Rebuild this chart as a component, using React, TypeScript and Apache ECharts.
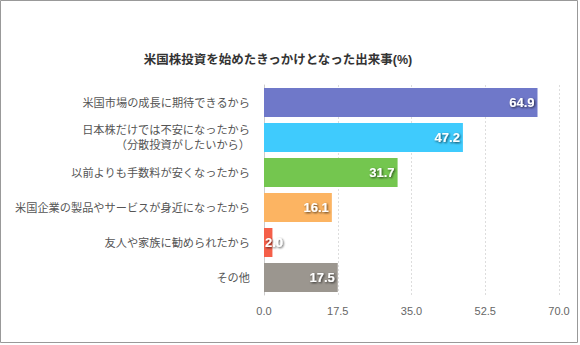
import React, { useEffect, useRef } from "react";
import * as echarts from "echarts";

const categories = [
  "米国市場の成長に期待できるから",
  "日本株だけでは不安になったから\n（分散投資がしたいから）",
  "以前よりも手数料が安くなったから",
  "米国企業の製品やサービスが身近になったから",
  "友人や家族に勧められたから",
  "その他",
];
const values = [64.9, 47.2, 31.7, 16.1, 2.0, 17.5];
const colors = ["#6f78c9", "#3fcbfd", "#74c64f", "#fcb462", "#f55f49", "#9b968f"];
const ticks = [0, 17.5, 35, 52.5, 70];
const title = "米国株投資を始めたきっかけとなった出来事(%)";

const FONT = "'Liberation Sans', 'Noto Sans CJK JP', sans-serif";

export default function App() {
  const ref = useRef<HTMLDivElement>(null);
  useEffect(() => {
    document.body.style.margin = "0";
    const chart = echarts.init(ref.current!, null, { renderer: "svg" });
    chart.setOption({
      animation: false,
      textStyle: { fontFamily: FONT },
      title: {
        text: title,
        left: 273,
        top: 49,
        textAlign: "center",
        textStyle: { fontSize: 12.5, fontWeight: "bold", color: "#333", fontFamily: FONT },
      },
      graphic: [
        {
          type: "rect",
          shape: { x: 0.5, y: 0.5, width: 577, height: 342 },
          style: { fill: "none", stroke: "#999", lineWidth: 1 },
          silent: true,
        },
      ],
      grid: { left: 264, right: 21, top: 85, bottom: 50 },
      xAxis: {
        type: "value",
        min: 0,
        max: 70,
        interval: 17.5,
        axisLine: { show: false },
        axisTick: { show: false },
        axisLabel: {
          color: "#666",
          fontSize: 11,
          margin: 10,
          formatter: (v: number) => (ticks.includes(v) ? v.toFixed(1) : ""),
        },
        splitLine: { lineStyle: { color: "#ddd", type: [2, 2] } },
      },
      yAxis: {
        type: "category",
        data: categories,
        inverse: true,
        axisLine: { show: true, lineStyle: { color: "#ccc" } },
        axisTick: { show: false },
        axisLabel: { color: "#555", fontSize: 11.2, margin: 14, lineHeight: 15, align: "right" },
      },
      series: [
        {
          type: "bar",
          barWidth: 29,
          data: values.map((v, i) => ({
            value: v,
            itemStyle: { color: colors[i] },
            label:
              v < 5
                ? { position: "insideLeft", offset: [-2, 0] }
                : undefined,
          })),
          label: {
            show: true,
            position: "insideRight",
            formatter: (p: any) => Number(p.value).toFixed(1),
            color: "#fff",
            fontSize: 13,
            fontWeight: "bold",
            fontFamily: FONT,
            textShadowColor: "rgba(0,0,0,0.7)",
            textShadowBlur: 2,
            textShadowOffsetX: 1,
            textShadowOffsetY: 1,
            distance: 3,
          },
        },
      ],
    });
    return () => chart.dispose();
  }, []);
  return <div ref={ref} style={{ width: 580, height: 345 }} />;
}
